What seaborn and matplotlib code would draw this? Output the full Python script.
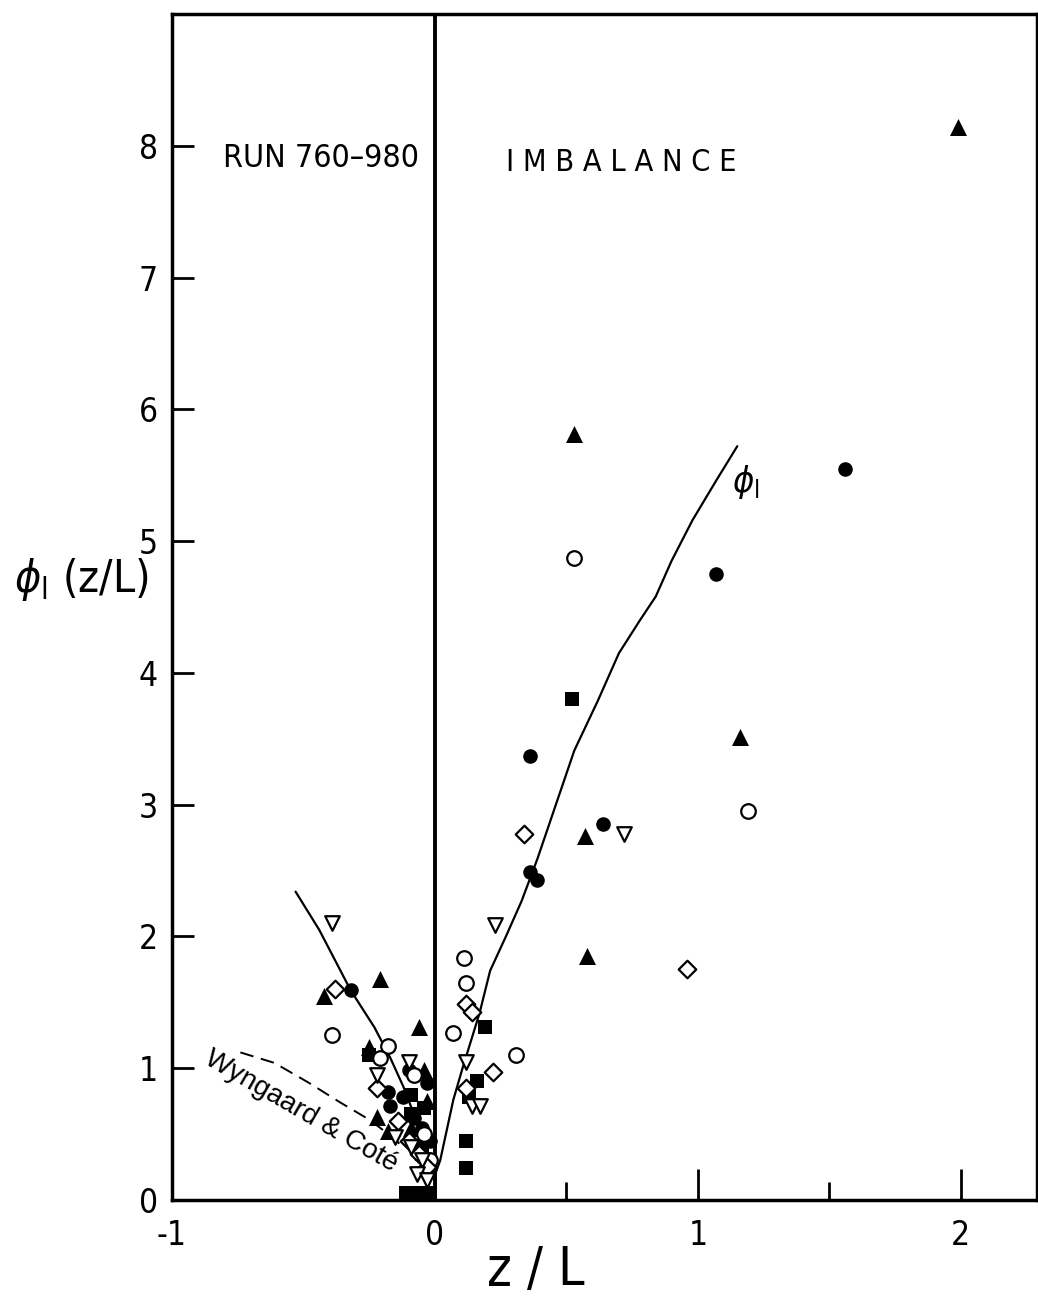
import numpy as np
import pandas as pd
import matplotlib
matplotlib.use("Agg")
import matplotlib.pyplot as plt
import seaborn as sns

# === Data: z/L (x) and phi_l (y) ===
# filled triangles
tri_x = [1.99, 0.53, 1.16, 0.57, 0.58, -0.21, -0.42, -0.06, -0.25, -0.04, -0.22, -0.18, -0.03, -0.09]
tri_y = [8.14, 5.81, 3.51, 2.76, 1.85, 1.68, 1.55, 1.31, 1.16, 0.99, 0.63, 0.52, 0.75, 0.55]
# filled circles
dot_x = [1.56, 1.07, 0.36, 0.64, 0.36, 0.39, -0.32, -0.18, -0.10, -0.03, -0.17, -0.08, -0.05, -0.02, -0.06, -0.12]
dot_y = [5.55, 4.75, 3.37, 2.85, 2.49, 2.43, 1.59, 0.82, 0.99, 0.89, 0.71, 0.62, 0.55, 0.45, 0.40, 0.78]
# open circles
ring_x = [0.53, 1.19, 0.11, 0.12, 0.07, 0.31, -0.39, -0.18, -0.21, -0.08, -0.04, -0.02]
ring_y = [4.87, 2.95, 1.84, 1.65, 1.27, 1.10, 1.25, 1.17, 1.08, 0.95, 0.50, 0.30]
# open diamonds
dia_x = [0.34, 0.96, 0.12, 0.14, 0.22, 0.12, -0.38, -0.22, -0.14, -0.10, -0.06, -0.03]
dia_y = [2.78, 1.75, 1.49, 1.43, 0.97, 0.85, 1.60, 0.85, 0.60, 0.45, 0.35, 0.25]
# open inverted triangles
inv_x = [0.72, 0.23, 0.12, 0.14, 0.17, -0.39, -0.22, -0.10, -0.15, -0.09, -0.05, -0.07, -0.03]
inv_y = [2.78, 2.09, 1.05, 0.71, 0.71, 2.10, 0.95, 1.05, 0.48, 0.40, 0.30, 0.20, 0.15]
# filled squares
sq_x = [0.52, 0.19, 0.16, 0.13, 0.12, 0.12, -0.25, -0.09, -0.04, -0.11, -0.07, -0.03, -0.09, -0.05]
sq_y = [3.80, 1.31, 0.90, 0.78, 0.45, 0.24, 1.10, 0.80, 0.70, 0.05, 0.05, 0.05, 0.65, 0.35]

# phi_l curve (stable side) and its unstable branch
phi_x = [0.0, 0.02, 0.07, 0.105, 0.17, 0.21, 0.27, 0.33, 0.39, 0.53, 0.62, 0.70, 0.78, 0.84, 0.90, 0.98, 1.07, 1.15]
phi_y = [0.19, 0.30, 0.76, 1.00, 1.42, 1.74, 2.00, 2.27, 2.59, 3.41, 3.79, 4.15, 4.40, 4.58, 4.85, 5.16, 5.46, 5.72]
unst_x = [-0.53, -0.44, -0.32, -0.23, -0.17, -0.12, -0.07, -0.02, 0.0]
unst_y = [2.34, 2.05, 1.59, 1.31, 1.08, 0.86, 0.60, 0.30, 0.20]
# Wyngaard & Cote (dashed)
wc_x = [-0.74, -0.61, -0.48, -0.36, -0.25, -0.19, -0.13]
wc_y = [1.12, 1.04, 0.89, 0.74, 0.61, 0.52, 0.42]

sns.set_style("white")
plt.rcParams['font.family'] = ['DejaVu Sans']
plt.rcParams['font.stretch'] = 'condensed'
plt.rcParams.update({'text.color': 'black', 'axes.labelcolor': 'black',
                     'xtick.color': 'black', 'ytick.color': 'black'})

fig = plt.figure(figsize=(10.38, 12.98), dpi=100)
ax = fig.add_axes([172 / 1038, 1 - 1200 / 1298, (1037 - 172) / 1038, (1200 - 14) / 1298])

# === Curves ===
sns.lineplot(x=phi_x, y=phi_y, sort=False, estimator=None, color="black", lw=1.6, ax=ax)
sns.lineplot(x=unst_x, y=unst_y, sort=False, estimator=None, color="black", lw=1.6, ax=ax)
sns.lineplot(x=wc_x, y=wc_y, sort=False, estimator=None, color="black", lw=1.4,
             linestyle=(0, (7, 4)), ax=ax)
ax.axvline(0, color="black", lw=2.8, zorder=2)

# === Points ===
sns.scatterplot(x=tri_x, y=tri_y, marker="^", s=150, color="black", linewidth=0, zorder=3, ax=ax)
sns.scatterplot(x=dot_x, y=dot_y, marker="o", s=110, color="black", linewidth=0, zorder=3, ax=ax)
sns.scatterplot(x=sq_x, y=sq_y, marker="s", s=90, color="black", linewidth=0, zorder=3, ax=ax)
sns.scatterplot(x=ring_x, y=ring_y, marker="o", s=110, color="white", edgecolor="black", linewidth=1.6, zorder=3, ax=ax)
sns.scatterplot(x=dia_x, y=dia_y, marker="D", s=80, color="white", edgecolor="black", linewidth=1.6, zorder=3, ax=ax)
sns.scatterplot(x=inv_x, y=inv_y, marker="v", s=110, color="white", edgecolor="black", linewidth=1.6, zorder=3, ax=ax)

# === Axes ===
ax.set_xlim(-1, 2.29)
ax.set_ylim(0, 9)
ax.set_xticks([-1, 0, 1, 2])
ax.set_xticklabels(["-1", "0", "1", "2"])
ax.set_xticks([0.5, 1.5], minor=True)
ax.set_yticks(range(0, 9))
ax.tick_params(axis="x", which="major", direction="in", length=22, width=2, labelsize=24, pad=14, bottom=True)
ax.tick_params(axis="x", which="minor", direction="in", length=13, width=2, bottom=True)
ax.tick_params(axis="y", direction="in", length=16, width=2, labelsize=24, pad=10, left=True)
for sp in ax.spines.values():
    sp.set_linewidth(2.5)
    sp.set_color("black")

ax.set_xlabel("z / L", fontsize=38, va="center")
ax.xaxis.set_label_coords(0.42, -0.059)
ax.set_ylabel(r"$\phi_{\mathsf{l}}$ (z/L)", fontsize=32, rotation=0, ha="center", va="center")
ax.yaxis.set_label_coords(-0.105, 0.523)

# === Annotations ===
ax.text(-0.805, 7.9, "RUN 760\u2013980", fontsize=23, va="center", ha="left")
ax.text(0.27, 7.87, "I M B A L A N C E", fontsize=22, va="center", ha="left")
ax.text(1.13, 5.45, r"$\phi_{\mathsf{l}}$", fontsize=26, va="center", ha="left")
ax.text(-0.51, 0.67, "Wyngaard & Coté", fontsize=20, rotation=-30, va="center", ha="center",
        family=["Liberation Sans", "DejaVu Sans"], stretch="normal")

fig.savefig("out.png", dpi=100)
